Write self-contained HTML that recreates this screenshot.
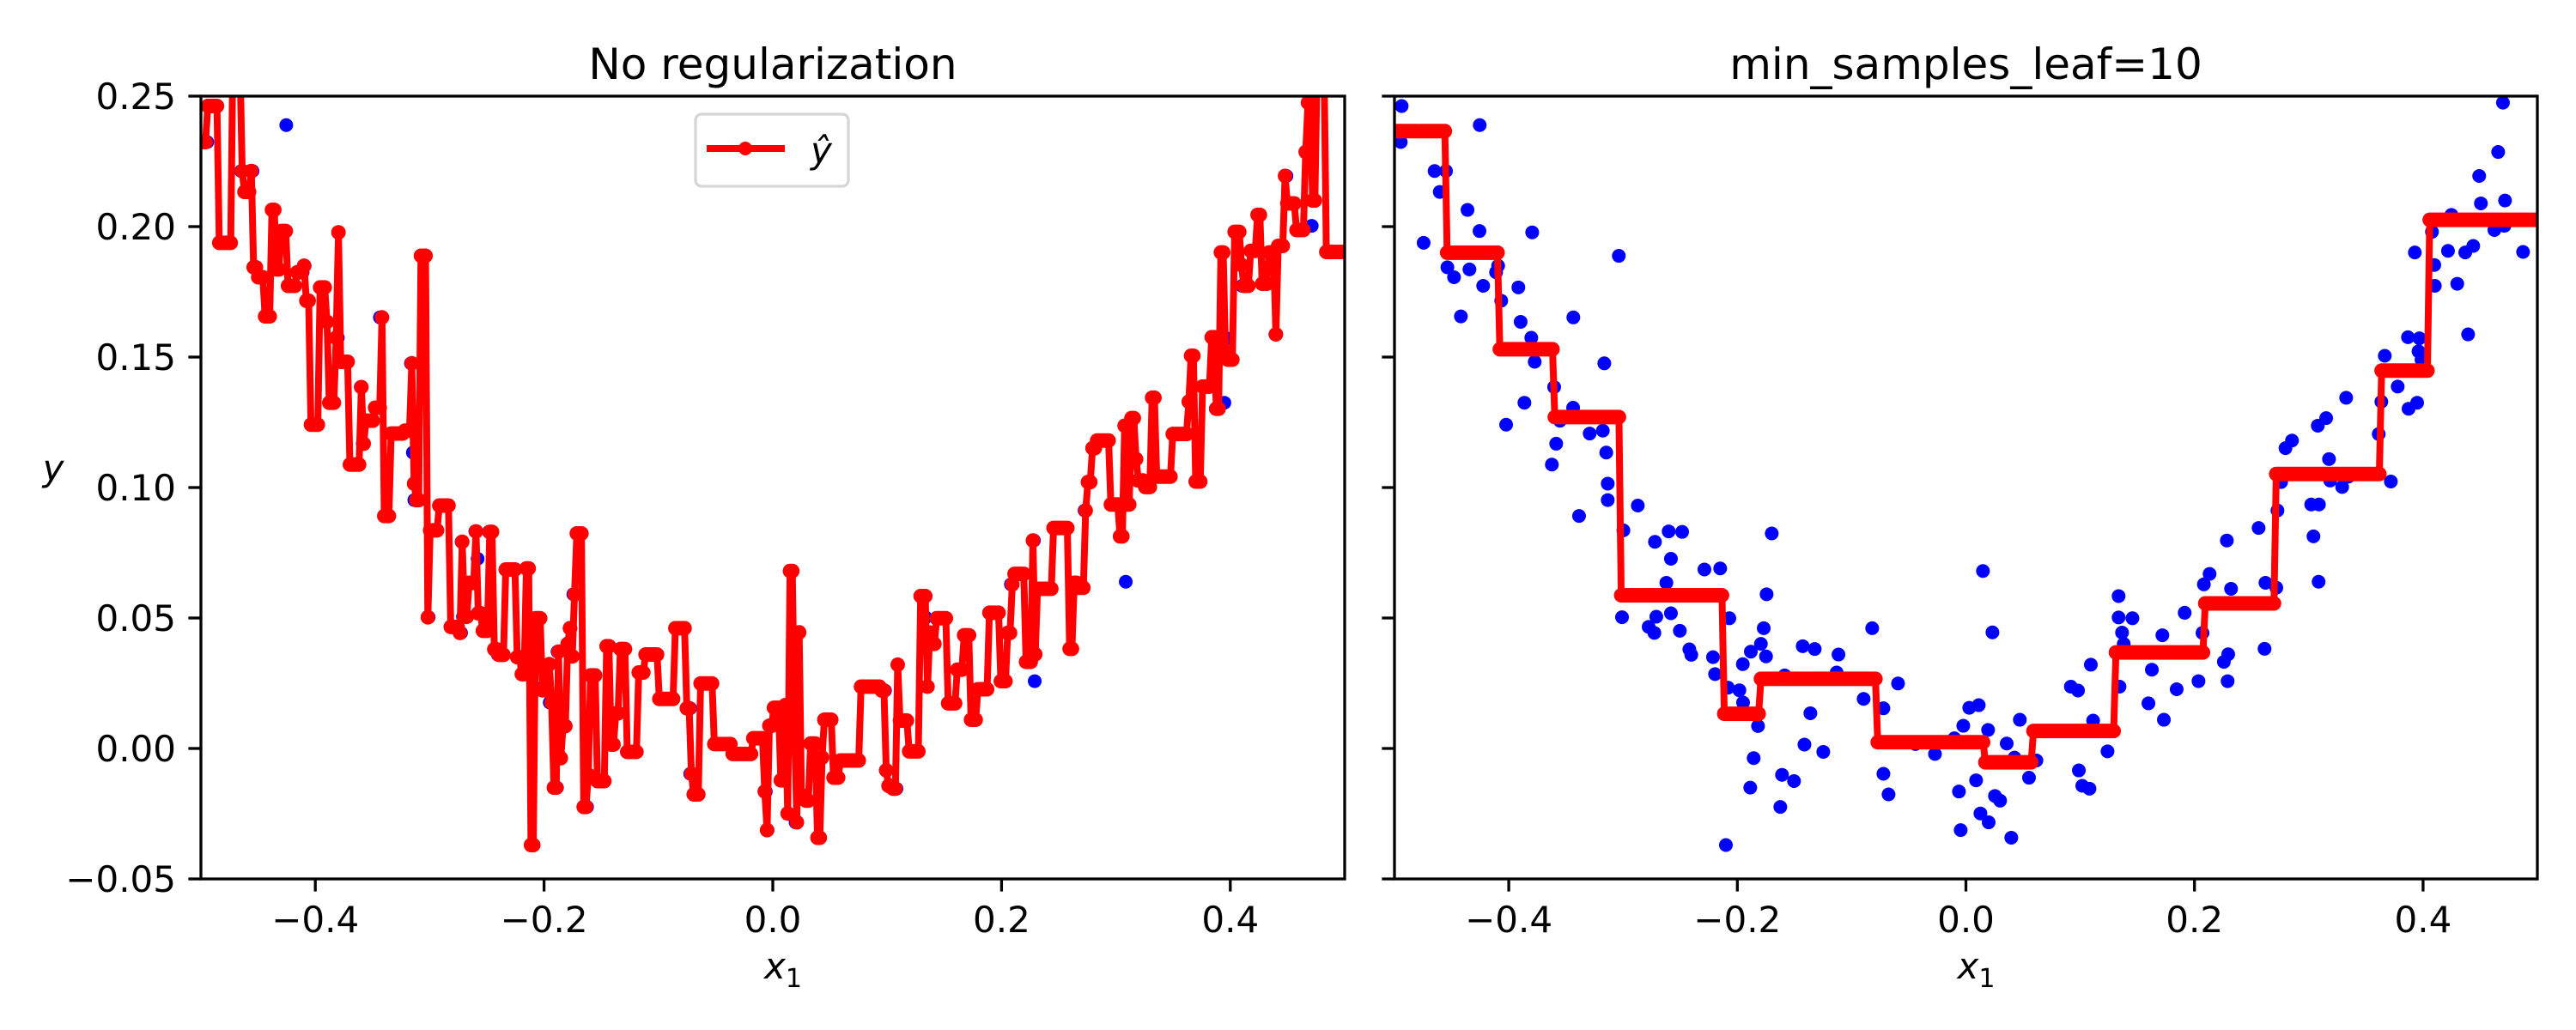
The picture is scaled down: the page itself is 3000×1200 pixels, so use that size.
<!DOCTYPE html>
<html><head><meta charset="utf-8"><style>
html,body{margin:0;padding:0;background:#fff;}
svg{display:block;font-family:"DejaVu Sans","Liberation Sans",sans-serif;}
</style></head><body>
<svg id="fig" width="3000" height="1200" viewBox="0 0 3000 1200" xmlns="http://www.w3.org/2000/svg">
<rect width="3000" height="1200" fill="#fff"/>
<defs>
<clipPath id="clipL"><rect x="234" y="112" width="1332" height="912"/></clipPath>
<clipPath id="clipR"><rect x="1624" y="112" width="1331" height="912"/></clipPath>
</defs>
<g id="left"></g>
<g id="right"></g>
</svg>
<script>
// training data (x1, y)
const dataX = [-0.4937,-0.4945,-0.4254,-0.4649,-0.4549,-0.4604,-0.4361,-0.4256,-0.4745,-0.3795,-0.4537,-0.4479,-0.4344,-0.4224,-0.4111,-0.4093,-0.4066,-0.3916,-0.4419,-0.3896,-0.3803,-0.3773,-0.3435,-0.3164,-0.3037,-0.3603,-0.3863,-0.4023,-0.3552,-0.3437,-0.3585,-0.3623,-0.3292,-0.3177,-0.3147,-0.3134,-0.3134,-0.3385,-0.2871,-0.2997,-0.2721,-0.2601,-0.2483,-0.2581,-0.2621,-0.2288,-0.2150,-0.3009,-0.2709,-0.2776,-0.2726,-0.2581,-0.2503,-0.2420,-0.2403,-0.2213,-0.2195,-0.2070,-0.2082,-0.1982,-0.1952,-0.1950,-0.1882,-0.1819,-0.1857,-0.1887,-0.2100,-0.1744,-0.1769,-0.1794,-0.1749,-0.1699,
-0.1428,-0.1323,-0.1115,-0.1131,-0.1586,-0.1361,-0.1413,-0.1248,-0.1609,-0.1504,-0.1624,-0.0820,-0.0895,-0.0722,-0.0594,-0.0722,-0.0677,-0.0442,-0.0271,-0.0101,0.0149,0.0232,0.0029,0.0112,-0.0023,0.0194,0.0357,0.0472,0.0425,0.0617,0.0552,0.0089,-0.0061,0.0254,0.0299,0.0127,0.0199,-0.0046,0.0397,0.0918,0.0981,0.1093,0.1113,0.1239,0.0988,0.1018,0.1081,0.1336,0.1336,0.1457,0.1366,0.1381,0.1344,0.1627,0.1597,0.1719,0.1732,
0.1844,0.1914,0.2035,0.2070,0.2082,0.2132,0.2257,0.2295,0.2290,0.2320,0.2283,0.2561,0.2613,0.2621,0.2716,0.2726,0.2758,0.2796,0.2853,0.3021,0.3089,0.3041,0.3086,0.3079,0.3152,0.3177,0.3187,0.3292,0.3327,0.3347,0.3612,0.3635,0.3665,0.3718,0.3778,0.3873,0.3948,0.3868,0.3968,0.3960,0.3986,0.3928,0.4078,0.4098,0.4103,0.4248,0.4218,0.4299,0.4369,0.4439,0.4394,0.4491,0.4506,0.4624,0.4712,0.4717,0.4657,0.4699,0.4875,-0.472,-0.466,0.478];
const dataY = [0.2462,0.2324,0.2389,0.2213,0.2213,0.2133,0.2064,0.1983,0.1938,0.1978,0.1844,0.1806,0.1836,0.1773,0.1825,0.1850,0.1716,0.1767,0.1656,0.1635,0.1574,0.1482,0.1652,0.1476,0.1888,0.1385,0.1325,0.1241,0.1256,0.1306,0.1168,0.1088,0.1207,0.1218,0.1134,0.1015,0.0952,0.0891,0.0931,0.0836,0.0792,0.0832,0.0830,0.0727,0.0635,0.0686,0.0690,0.0503,0.0505,0.0466,0.0443,0.0518,0.0451,0.0380,0.0359,0.0350,0.0285,0.0499,0.0233,0.0223,0.0323,0.0176,0.0371,0.0086,-0.0037,-0.0150,-0.0370,0.0591,0.0461,0.0401,0.0353,0.0824,
0.0392,0.0381,0.0360,0.0291,0.0280,0.0135,0.0015,-0.0013,-0.0101,-0.0125,-0.0224,0.0461,0.0190,0.0154,0.0249,-0.0097,-0.0176,0.0017,-0.0021,0.0039,0.0680,0.0445,0.0156,0.0166,0.0087,0.0071,0.0019,0.0110,-0.0035,-0.0046,-0.0112,-0.0122,-0.0165,-0.0182,-0.0200,-0.0249,-0.0283,-0.0313,-0.0342,0.0237,0.0222,0.0321,0.0107,-0.0011,-0.0084,-0.0143,-0.0154,0.0584,0.0502,0.0499,0.0444,0.0401,0.0237,0.0302,0.0173,0.0434,0.0110,
0.0227,0.0520,0.0258,0.0443,0.0629,0.0669,0.0332,0.0361,0.0258,0.0612,0.0797,0.0845,0.0382,0.0635,0.0616,0.0912,0.1021,0.1151,0.1180,0.0935,0.0935,0.0813,0.0639,0.1237,0.1266,0.1109,0.1027,0.1002,0.1344,0.1042,0.1205,0.1329,0.1505,0.1023,0.1387,0.1302,0.1325,0.1576,0.1572,0.1522,0.1490,0.1901,0.1980,0.1853,0.1773,0.2045,0.1907,0.1781,0.1901,0.1926,0.1587,0.2194,0.2089,0.1987,0.2003,0.2100,0.2286,0.2475,0.1903,0.270,0.265,0.262];
// min_samples_leaf=10 tree: split thresholds and leaf values
const stepEdges = [-0.455,-0.408,-0.360,-0.302,-0.212,-0.181,-0.0785,0.0154,0.058,0.1294,0.2082,0.2708,0.3622,0.4048];
const stepValues = [0.2366,0.190,0.153,0.127,0.0587,0.0133,0.0267,0.0024,-0.0053,0.0067,0.0368,0.0556,0.1052,0.1448,0.2026];
const xTicks = [-0.4,-0.2,0.0,0.2,0.4];
const xTickLabels = ["\u22120.4","\u22120.2","0.0","0.2","0.4"];
const yTicks = [-0.05,0,0.05,0.10,0.15,0.20,0.25];
const yTickLabels = ["\u22120.05","0.00","0.05","0.10","0.15","0.20","0.25"];
const nGrid = 500;

const NS = "http://www.w3.org/2000/svg";
function mk(tag, attrs, parent){const e=document.createElementNS(NS,tag);for(const k in attrs)e.setAttribute(k,attrs[k]);parent.appendChild(e);return e;}

const order = dataX.map((_,i)=>i).sort((a,b)=>dataX[a]-dataX[b]);
const sx = order.map(i=>dataX[i]), sy = order.map(i=>dataY[i]);
function predictFull(x){
  let i=0; while(i<sx.length-1 && x > (sx[i]+sx[i+1])/2) i++; return sy[i];
}
function predictLeaf(x){let i=0; while(i<stepEdges.length && x>stepEdges[i]) i++; return stepValues[i];}
const grid = []; for(let k=0;k<nGrid;k++) grid.push(-0.5 + k/(nGrid-1));

function panel(gid, x0, x1px, title, predict, clip, showY){
  const g = document.getElementById(gid);
  const top=112, bot=1024;
  const X = v => x0 + (v+0.5)*(x1px-x0);
  const Y = v => bot - (v+0.05)/0.30*(bot-top);
  const plot = mk('g',{'clip-path':'url(#'+clip+')'},g);
  
  
  const pts = mk('g',{},plot);
  
  
  for(let i=0;i<dataX.length;i++){
    const c = mk('circle',{cx:X(dataX[i]),cy:Y(dataY[i]),r:8,fill:'#0000ff'},pts);
    
    
  }
  const pr = mk('g',{},plot);
  
  
  const py = grid.map(predict);
  mk('polyline',{points:grid.map((x,k)=>X(x)+','+Y(py[k])).join(' '),fill:'none',stroke:'#ff0000','stroke-width':8,'stroke-linejoin':'round'},pr);
  for(let k=0;k<grid.length;k++){
    const c = mk('circle',{cx:X(grid[k]),cy:Y(py[k]),r:8.5,fill:'#ff0000'},pr);
    
    
  }
  const fr = mk('rect',{x:x0,y:top,width:x1px-x0,height:bot-top,fill:'none',stroke:'#000','stroke-width':3.3},g);
  
  
  xTicks.forEach((t,i)=>{
    mk('line',{x1:X(t),x2:X(t),y1:bot,y2:bot+14.6,stroke:'#000','stroke-width':3.3},g);
    const tx = mk('text',{x:X(t),y:bot+62,'font-size':42,'text-anchor':'middle',fill:'#000'},g);
    tx.textContent = xTickLabels[i];
    
    
  });
  yTicks.forEach((t,i)=>{
    mk('line',{x1:x0-14.6,x2:x0,y1:Y(t),y2:Y(t),stroke:'#000','stroke-width':3.3},g);
    if(showY){
      const ty = mk('text',{x:x0-29,y:Y(t)+15,'font-size':42,'text-anchor':'end',fill:'#000'},g);
      ty.textContent = yTickLabels[i];
      
      
    }
  });
  const tt = mk('text',{x:(x0+x1px)/2,y:92,'font-size':50,'text-anchor':'middle',fill:'#000'},g);
  tt.textContent = title;
  
  
  const xl = mk('text',{x:(x0+x1px)/2-10,y:1140,'font-size':42,'font-style':'italic',fill:'#000'},g);
  xl.innerHTML = 'x<tspan font-size="30" dy="10" font-style="normal">1</tspan>';
  
  
}

panel('left',234,1566,'No regularization',predictFull,'clipL',true);
panel('right',1624,2955,'min_samples_leaf=10',predictLeaf,'clipR',false);

const fig = document.getElementById('fig');
const yl = mk('text',{x:62,y:560,'font-size':42,'font-style':'italic','text-anchor':'middle',fill:'#000'},fig);
yl.textContent = 'y';



const lg = mk('g',{},fig);


mk('rect',{x:810,y:133,width:178,height:84,rx:7,fill:'#fff','fill-opacity':0.8,stroke:'#d6d6d6','stroke-width':3.3},lg);
mk('line',{x1:823,x2:914,y1:173,y2:173,stroke:'#ff0000','stroke-width':8},lg);
mk('circle',{cx:868,cy:173,r:8,fill:'#ff0000'},lg);
const lt = mk('text',{x:944,y:190,'font-size':42,'font-style':'italic',fill:'#000'},lg);
lt.textContent = 'y\u0302';


</script>
</body></html>
